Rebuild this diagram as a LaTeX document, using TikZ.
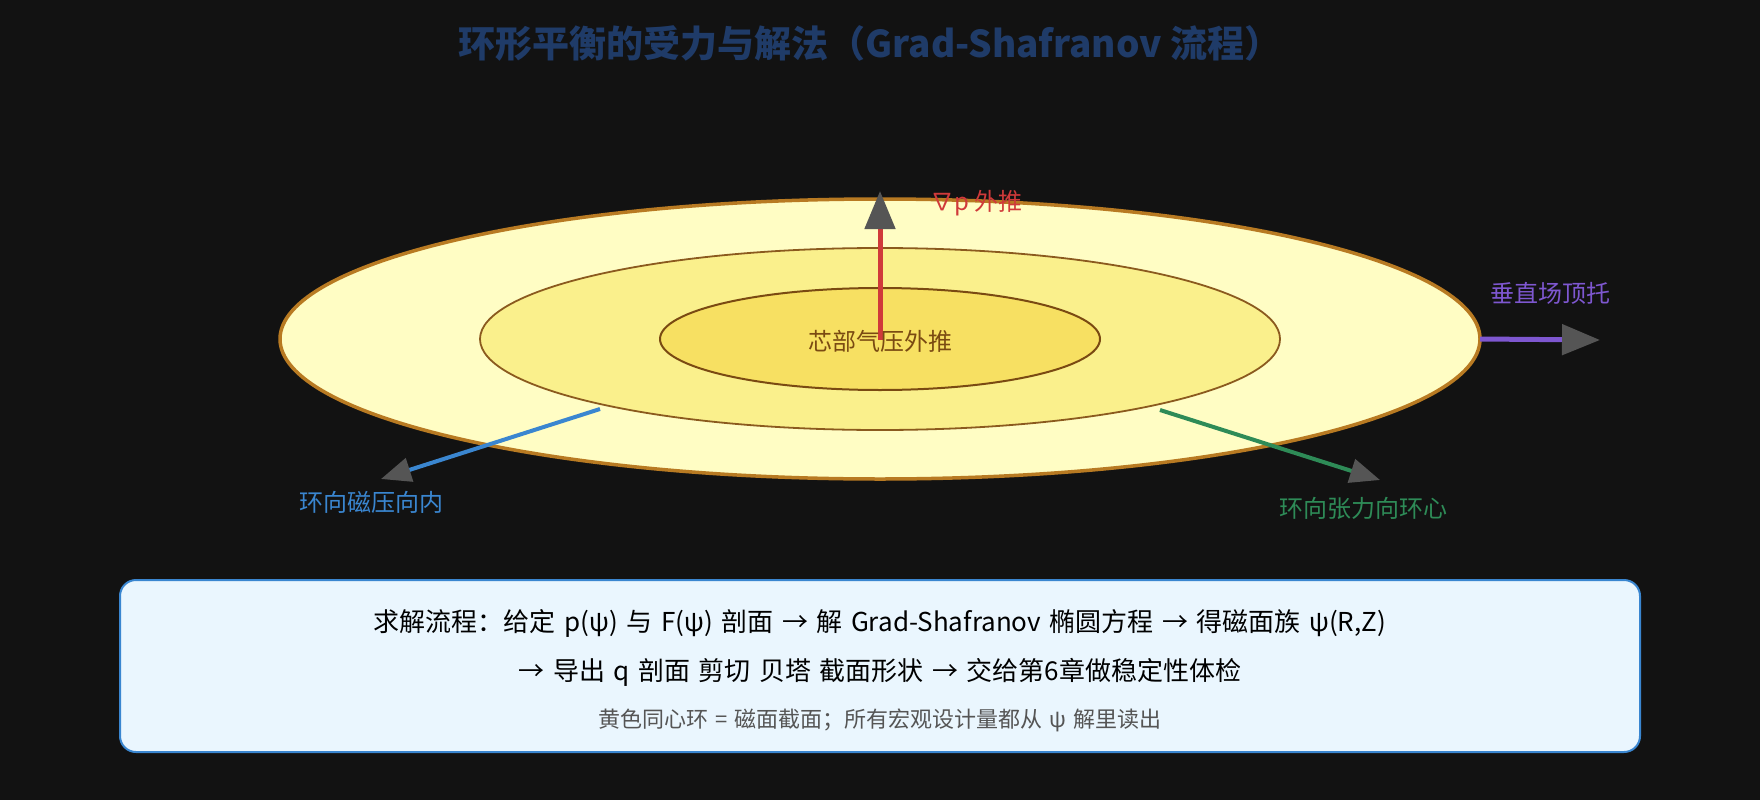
\documentclass[tikz,border=0pt]{standalone}
\usepackage{fontspec}
\setmainfont{Noto Sans CJK SC}
\usetikzlibrary{shapes.geometric,arrows.meta}
\definecolor{bg}{HTML}{121212}
\definecolor{titleblue}{HTML}{1F3B68}
\definecolor{ofill}{HTML}{FFFDC4}
\definecolor{odraw}{HTML}{B87A22}
\definecolor{mfill}{HTML}{FAF08C}
\definecolor{mdraw}{HTML}{8B5A1E}
\definecolor{ifill}{HTML}{F7E062}
\definecolor{idraw}{HTML}{7A4A12}
\definecolor{redc}{HTML}{D03A3A}
\definecolor{purplec}{HTML}{7E57D0}
\definecolor{bluec}{HTML}{3A86D0}
\definecolor{greenc}{HTML}{2E8B57}
\definecolor{headgray}{HTML}{555555}
\definecolor{boxfill}{HTML}{EAF6FE}
\definecolor{boxdraw}{HTML}{3A86D0}
\definecolor{notegray}{HTML}{555555}
\newcommand{\fsz}[1]{\fontsize{#1}{#1}\selectfont}
\tikzset{
  ring/.style={ellipse, inner sep=0pt, outer sep=0pt},
  label/.style={inner sep=0pt, outer sep=0pt},
  bigforce/.style={line width=5pt, -{Triangle[length=38pt,width=30pt,color=headgray]}},
  smallforce/.style={line width=4pt, -{Triangle[length=30pt,width=24pt,color=headgray]}},
  infobox/.style={draw=boxdraw, fill=boxfill, line width=2pt, rounded corners=16pt}
}
\begin{document}
\begin{tikzpicture}[x=1pt,y=-1pt]
\fill[bg] (0,0) rectangle (1760,800);
\useasboundingbox (0,0) rectangle (1760,800);
% title
\node[label, text=titleblue, font=\fsz{37}\bfseries] (title) at (870,43) {环形平衡的受力与解法（Grad-Shafranov 流程）};
% rings
\node[ring, draw=odraw, fill=ofill, line width=3.5pt, minimum width=1200pt, minimum height=280pt] (outer) at (880,339) {};
\node[ring, draw=mdraw, fill=mfill, line width=1.8pt, minimum width=800pt, minimum height=182pt] (middle) at (880,339) {};
\node[ring, draw=idraw, fill=ifill, line width=2pt, minimum width=440pt, minimum height=102pt] (inner) at (880,339) {};
% coordinates
\coordinate (pB) at (880,340);
\coordinate (pT) at (880,191);
\coordinate (vE) at (1600,340);
\coordinate (bS) at (600,409);
\coordinate (bE) at (381,479);
\coordinate (gS) at (1160,410);
\coordinate (gE) at (1380,480);
% forces
\draw[bigforce, draw=redc] (pB) -- (pT);
\draw[bigforce, draw=purplec] (outer.east) -- (vE);
\draw[smallforce, draw=bluec] (bS) -- (bE);
\draw[smallforce, draw=greenc] (gS) -- (gE);
% labels
\node[label, text=idraw, font=\fsz{24}] (core) at (880,341) {芯部气压外推};
\node[label, anchor=west, text=redc, font=\fsz{24}] (grad) at (930,203) {∇p 外推};
\node[label, text=purplec, font=\fsz{24}] (vert) at (1550,293) {垂直场顶托};
\node[label, text=bluec, font=\fsz{24}] (tor) at (371,502) {环向磁压向内};
\node[label, text=greenc, font=\fsz{24}] (hoop) at (1363,508) {环向张力向环心};
% info box
\draw[infobox] (120,580) rectangle (1640,752);
\node[label, text=black, font=\fsz{26}] (l1) at (880,623) {\spaceskip=8.5pt\relax 求解流程：给定 p(ψ) 与 F(ψ) 剖面 → 解 Grad-Shafranov 椭圆方程 → 得磁面族 ψ(R,Z)};
\node[label, text=black, font=\fsz{26}] (l2) at (880,672) {\spaceskip=8.5pt\relax → 导出 q 剖面 剪切 贝塔 截面形状 → 交给第6章做稳定性体检};
\node[label, text=notegray, font=\fsz{22}] (l3) at (880,720) {\spaceskip=7pt\relax 黄色同心环 = 磁面截面；所有宏观设计量都从 ψ 解里读出};
\end{tikzpicture}
\end{document}
